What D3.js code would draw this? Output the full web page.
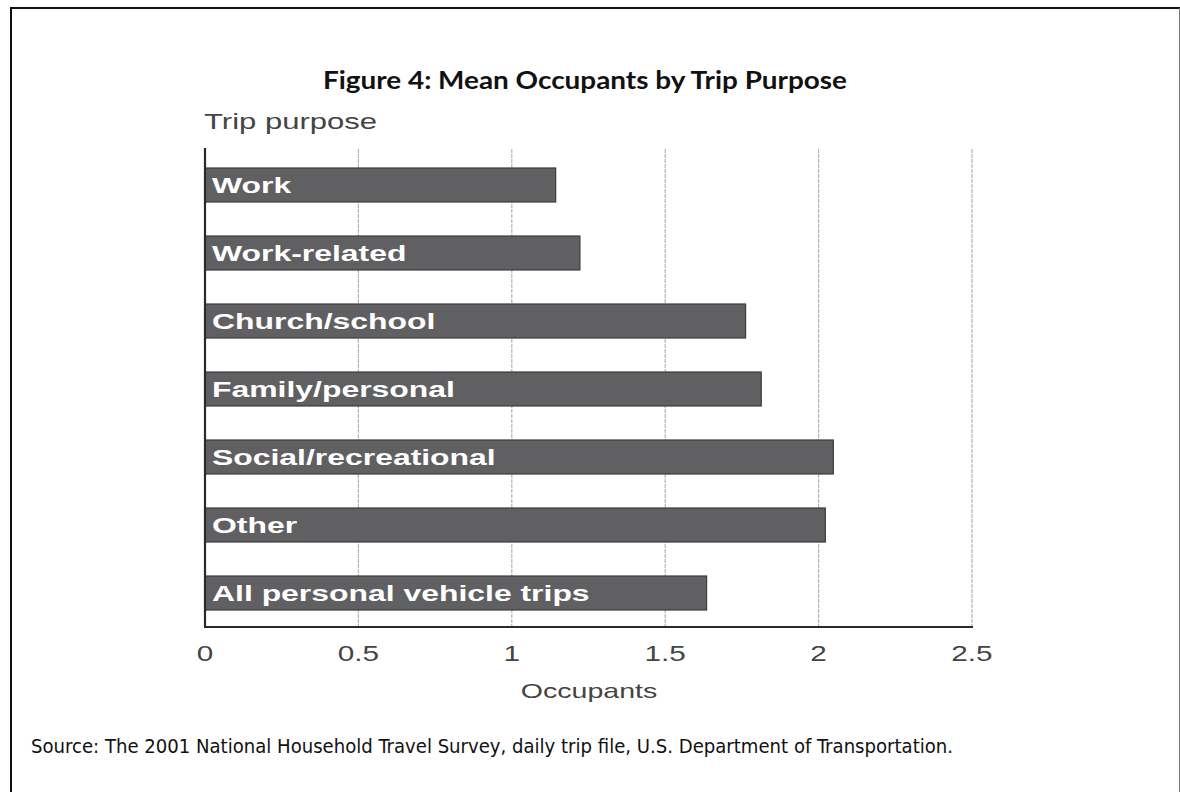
<!DOCTYPE html>
<html>
<head>
<meta charset="utf-8">
<script src="https://cdn.jsdelivr.net/npm/d3@7/dist/d3.min.js"></script>
<style>
  html, body { margin: 0; padding: 0; background: #fff; }
  svg { display: block; }
</style>
</head>
<body>
<svg id="chart" width="1180" height="792"></svg>
<script>
const categories = ["Work", "Work-related", "Church/school", "Family/personal", "Social/recreational", "Other", "All personal vehicle trips"];
const occupants = [1.143, 1.222, 1.762, 1.813, 2.048, 2.022, 1.635];
const tickValues = [0, 0.5, 1, 1.5, 2, 2.5];
const tickLabels = ["0", "0.5", "1", "1.5", "2", "2.5"];
const titleText = "Figure 4: Mean Occupants by Trip Purpose";
const yAxisTitle = "Trip purpose";
const xAxisTitle = "Occupants";
const sourceText = "Source: The 2001 National Household Travel Survey, daily trip file, U.S. Department of Transportation.";

const svg = d3.select("#chart");

// frame
svg.append("line").attr("x1", 11).attr("x2", 11).attr("y1", 7).attr("y2", 792)
  .attr("stroke", "#111").attr("stroke-width", 2);
svg.append("line").attr("x1", 10).attr("x2", 1180).attr("y1", 8).attr("y2", 8)
  .attr("stroke", "#111").attr("stroke-width", 2);
svg.append("line").attr("x1", 1179.5).attr("x2", 1179.5).attr("y1", 8).attr("y2", 792)
  .attr("stroke", "#777").attr("stroke-width", 1);

function stretch(sel, k) {
  sel.each(function () {
    const w = this.getComputedTextLength();
    d3.select(this).attr("textLength", w * k).attr("lengthAdjust", "spacingAndGlyphs");
  });
}

// title
svg.append("text")
  .attr("x", 585).attr("y", 89)
  .attr("text-anchor", "middle")
  .attr("font-family", "Lato, 'Open Sans', sans-serif")
  .attr("font-weight", "bold")
  .attr("font-size", 25)
  .attr("fill", "#111")
  .text(titleText)
  .attr("textLength", 524).attr("lengthAdjust", "spacingAndGlyphs");

const x = d3.scaleLinear().domain([0, 2.5]).range([205, 972]);
const y = d3.scaleBand().domain(categories).range([151, 627]).paddingInner(0.5).paddingOuter(0.25);

const chartFont = "'Liberation Sans', Arial, sans-serif";

// gridlines
svg.append("g").selectAll("line").data(tickValues.filter(d => d > 0)).join("line")
  .attr("x1", d => x(d)).attr("x2", d => x(d))
  .attr("y1", 149).attr("y2", 627)
  .attr("stroke", "#b4b4b4").attr("stroke-width", 1.2)
  .attr("stroke-dasharray", "4,1");

// bars
svg.append("g").selectAll("rect").data(categories).join("rect")
  .attr("x", x(0))
  .attr("y", d => y(d))
  .attr("width", (d, i) => x(occupants[i]) - x(0))
  .attr("height", y.bandwidth())
  .attr("fill", "#606062")
  .attr("stroke", "#3c3c3e")
  .attr("stroke-width", 1.2);

// bar labels
const labels = svg.append("g").selectAll("text").data(categories).join("text")
  .attr("x", 212)
  .attr("y", d => y(d) + y.bandwidth() / 2 + 8)
  .attr("font-family", chartFont)
  .attr("font-weight", "bold")
  .attr("font-size", 22)
  .attr("fill", "#fff")
  .text(d => d);
stretch(labels, 1.45);

// axes lines
svg.append("line").attr("x1", x(0)).attr("x2", x(0)).attr("y1", 148).attr("y2", 627)
  .attr("stroke", "#2a2a2a").attr("stroke-width", 2.2);
svg.append("line").attr("x1", x(0) - 1).attr("x2", x(2.5) + 1).attr("y1", 627).attr("y2", 627)
  .attr("stroke", "#2a2a2a").attr("stroke-width", 2.2);

// x tick labels
const ticks = svg.append("g").selectAll("text").data(tickValues).join("text")
  .attr("x", d => x(d))
  .attr("y", 661)
  .attr("text-anchor", "middle")
  .attr("font-family", chartFont)
  .attr("font-size", 22)
  .attr("fill", "#444")
  .text((d, i) => tickLabels[i]);
stretch(ticks, 1.35);

// axis titles
const xt = svg.append("text")
  .attr("x", 589).attr("y", 698)
  .attr("text-anchor", "middle")
  .attr("font-family", chartFont)
  .attr("font-size", 21)
  .attr("fill", "#444")
  .text(xAxisTitle);
stretch(xt, 1.36);

const yt = svg.append("text")
  .attr("x", 204).attr("y", 129)
  .attr("font-family", chartFont)
  .attr("font-size", 22)
  .attr("fill", "#444")
  .text(yAxisTitle);
stretch(yt, 1.41);

// source
svg.append("text")
  .attr("x", 31).attr("y", 753)
  .attr("font-family", "'Liberation Sans Narrow', 'DejaVu Sans Condensed', sans-serif")
  .attr("font-size", 20)
  .attr("fill", "#111")
  .text(sourceText)
  .attr("textLength", 922).attr("lengthAdjust", "spacingAndGlyphs");
</script>
</body>
</html>
